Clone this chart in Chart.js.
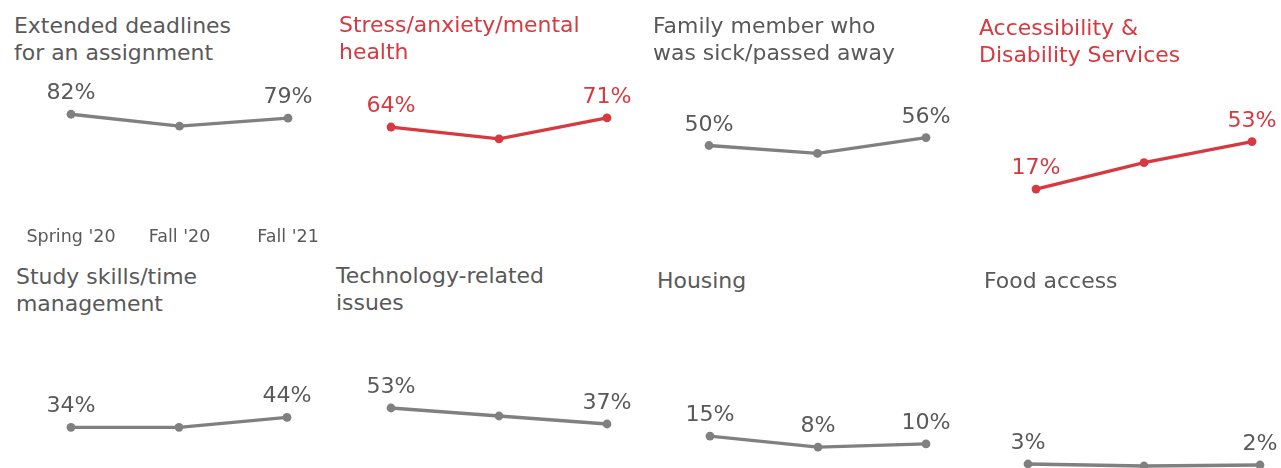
<!DOCTYPE html>
<html>
<head>
<meta charset="utf-8">
<script src="https://cdn.jsdelivr.net/npm/chart.js@4.4.1/dist/chart.umd.min.js"></script>
<style>
  html, body { margin: 0; padding: 0; background: #fff; overflow: hidden; }
  body { width: 1281px; height: 468px; position: relative; font-family: "DejaVu Sans", Verdana, sans-serif; }
  canvas { position: absolute; }
  .title { position: absolute; font-size: 20.5px; line-height: 27px; color: #595959; white-space: nowrap; transform: scaleX(1.07); transform-origin: 0 0; }
  .title.hi { color: #d6393f; }
</style>
</head>
<body>
<script>
const periods = ["Spring '20", "Fall '20", "Fall '21"];

const panelTitles = [
    ["Extended deadlines", "for an assignment"],
    ["Stress/anxiety/mental", "health"],
    ["Family member who", "was sick/passed away"],
    ["Accessibility &", "Disability Services"],
    ["Study skills/time", "management"],
    ["Technology-related", "issues"],
    ["Housing"],
    ["Food access"],
];

const extendedDeadlines = [82, 73, 79];
const stressAnxiety = [64, 55, 71];
const familyMember = [50, 44, 56];
const accessibility = [17, 37, 53];
const studySkills = [34, 34, 44];
const technology = [53, 45, 37];
const housing = [15, 8, 10];
const foodAccess = [3, 1, 2];

const panelValues = [extendedDeadlines, stressAnxiety, familyMember, accessibility,
                     studySkills, technology, housing, foodAccess];
const highlighted = [false, true, false, true, false, false, false, false];
const labelMiddle = [false, false, false, false, false, false, true, false];

const GRAY_LINE = "#808080";
const GRAY_TEXT = "#595959";
const RED = "#d6393f";

// where each small chart sits: first/last point x, pixel of 0%, px per %, title top-left
const layout = [
    { x1: 71,   x3: 288,  y0: 222.5, k: 1.32, tx: 14,  ty: 12.7, axis: true },
    { x1: 391,  x3: 607,  y0: 211.5, k: 1.32, tx: 339, ty: 12.4 },
    { x1: 709,  x3: 926,  y0: 211.5, k: 1.32, tx: 653, ty: 12.7 },
    { x1: 1036, x3: 1252, y0: 211.5, k: 1.32, tx: 979, ty: 15.4 },
    { x1: 71,   x3: 287,  y0: 461.3, k: 1.0,  tx: 16,  ty: 264.4 },
    { x1: 391,  x3: 607,  y0: 461,   k: 1.0,  tx: 336, ty: 262.7 },
    { x1: 710,  x3: 926,  y0: 459.6, k: 1.57, tx: 657, ty: 268.4 },
    { x1: 1028, x3: 1260, y0: 467,   k: 1.0,  tx: 984, ty: 268.4 },
];

const valueLabels = {
    id: "valueLabels",
    afterDatasetsDraw(chart, args, opts) {
        const ctx = chart.ctx;
        const meta = chart.getDatasetMeta(0);
        const data = chart.data.datasets[0].data;
        ctx.save();
        ctx.font = "20.5px 'DejaVu Sans'";
        ctx.fillStyle = opts.color;
        ctx.textAlign = "center";
        ctx.textBaseline = "alphabetic";
        meta.data.forEach((pt, i) => {
            if (i === 1 && !opts.showMiddle) return;
            ctx.save();
            ctx.translate(pt.x, pt.y - 15);
            ctx.scale(1.08, 1);
            ctx.fillText(data[i] + "%", 0, 0);
            ctx.restore();
        });
        ctx.restore();
    }
};

const MX = 60, MY = 40, AXIS_H = 30;

panelValues.forEach((values, p) => {
    const L = layout[p];
    const lineColor = highlighted[p] ? RED : GRAY_LINE;
    const textColor = highlighted[p] ? RED : GRAY_TEXT;

    // title
    const t = document.createElement("div");
    t.className = "title" + (highlighted[p] ? " hi" : "");
    t.style.left = L.tx + "px";
    t.style.top = L.ty + "px";
    t.innerHTML = panelTitles[p].join("<br>");
    document.body.appendChild(t);

    // chart area geometry
    const top = L.y0 - L.k * 100;
    const cTop = Math.floor(top) - MY;
    const cLeft = L.x1 - MX;
    const width = (L.x3 - L.x1) + 2 * MX;
    const axisH = L.axis ? AXIS_H : 0;
    const bottomPad = L.axis ? 4 : MY;
    const height = Math.ceil(L.y0 - cTop + axisH + bottomPad);

    const canvas = document.createElement("canvas");
    canvas.width = width;
    canvas.height = height;
    canvas.style.left = cLeft + "px";
    canvas.style.top = cTop + "px";
    document.body.appendChild(canvas);

    new Chart(canvas, {
        type: "line",
        data: {
            labels: periods,
            datasets: [{
                data: values,
                borderColor: lineColor,
                backgroundColor: lineColor,
                borderWidth: 3.3,
                pointRadius: 4.4,
                pointHoverRadius: 4.4,
                pointBorderWidth: 0,
                tension: 0,
                clip: false,
            }],
        },
        options: {
            responsive: false,
            animation: false,
            events: [],
            layout: {
                padding: {
                    left: MX,
                    right: MX,
                    top: top - cTop,
                    bottom: height - (L.y0 - cTop) - axisH,
                },
            },
            scales: {
                x: {
                    display: !!L.axis,
                    grid: { display: false, drawTicks: false },
                    border: { display: false },
                    ticks: {
                        color: GRAY_TEXT,
                        font: { family: "DejaVu Sans", size: 17.5 },
                        padding: 4,
                        maxRotation: 0,
                        autoSkip: false,
                    },
                    afterFit: (s) => { if (L.axis) s.height = AXIS_H; },
                },
                y: { display: false, min: 0, max: 100 },
            },
            plugins: {
                legend: { display: false },
                tooltip: { enabled: false },
                valueLabels: { color: textColor, showMiddle: labelMiddle[p] },
            },
        },
        plugins: [valueLabels],
    });
});
</script>
</body>
</html>
